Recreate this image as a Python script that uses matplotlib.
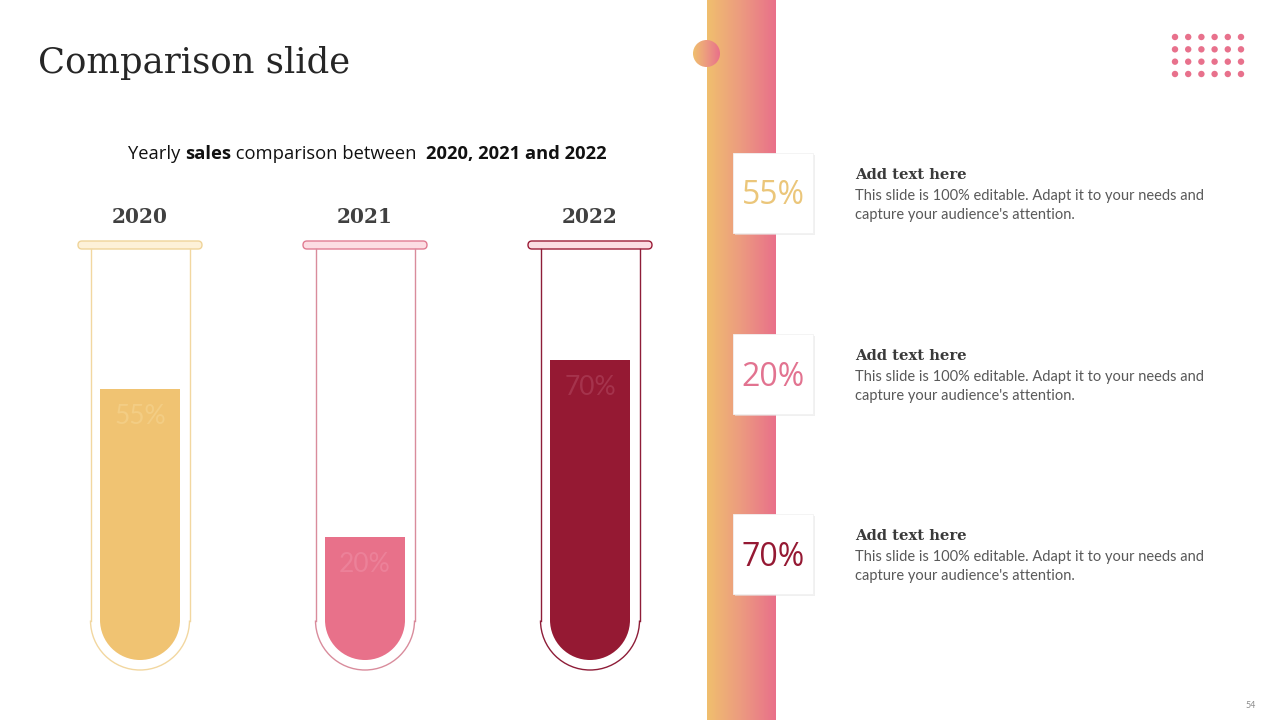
import matplotlib
matplotlib.use("Agg")
import matplotlib.pyplot as plt
import numpy as np
from matplotlib.patches import Wedge, FancyBboxPatch, Rectangle, Circle, Arc
from matplotlib.colors import LinearSegmentedColormap

# ---- data ----
years = ["2020", "2021", "2022"]
values = [55, 20, 70]                      # percent shown
fill_levels = [0.66, 0.30, 0.73]           # displayed fill level of each tube (fraction of tube)
fill_colors = ["#F0C372", "#E8718A", "#951933"]
label_colors = ["#F3CD84", "#EC8199", "#A5334C"]
outline_colors = ["#F2D7A0", "#D98C9C", "#8E1D38"]
cap_fill = ["#FDF1D8", "#FCDDE3", "#FBDDE3"]
cap_edge = ["#EFD49A", "#E07C92", "#9B1D38"]
box_text_colors = ["#EBC67A", "#E27390", "#951933"]
headings = ["Add text here"] * 3
body_line1 = ["This slide is 100% editable. Adapt it to your needs and"] * 3
body_line2 = ["capture your audience's attention."] * 3

W, H = 1280, 720
fig = plt.figure(figsize=(12.8, 7.2), dpi=100)
ax = fig.add_axes([0, 0, 1, 1])
ax.set_xlim(0, W)
ax.set_ylim(H, 0)
ax.axis("off")

SERIF = ["DejaVu Serif"]
SANS = ["Lato", "DejaVu Sans"]
OPEN = ["Open Sans", "DejaVu Sans"]

# title
ax.text(38, 73, "Comparison slide", fontsize=25.5, family=SERIF, color="#262626", va="baseline", ha="left")

# subtitle with mixed weights
fig.canvas.draw()
r = fig.canvas.get_renderer()
parts = [("Yearly ", "normal"), ("sales", "bold"), (" comparison between  ", "normal"), ("2020, 2021 and 2022", "bold")]
fs = 13.2
widths = []
for s, w in parts:
    t = ax.text(0, 0, s, fontsize=fs, family=OPEN, fontweight=w)
    bb = t.get_window_extent(renderer=r)
    widths.append(bb.width)
    t.remove()
total = sum(widths)
x0 = 367 - total / 2
for (s, w), wd in zip(parts, widths):
    ax.text(x0, 159, s, fontsize=fs, family=OPEN, fontweight=w, color="#111111", va="baseline", ha="left")
    x0 += wd

# tubes
centers = [140, 365, 590]
tube_top, tube_bot = 249, 670
outer_w = 99
inner_w = 80
fill_bottom = 660
fill_span = fill_bottom - tube_top

for i, (cx, yr) in enumerate(zip(centers, years)):
    ax.text(cx, 223, yr, fontsize=14.5, family=SERIF, fontweight="bold", color="#404040", ha="center", va="baseline")
    R = outer_w / 2
    cy = tube_bot - R
    ax.plot([cx - R, cx - R], [tube_top, cy], color=outline_colors[i], lw=1.0)
    ax.plot([cx + R, cx + R], [tube_top, cy], color=outline_colors[i], lw=1.0)
    ax.add_patch(Arc((cx, cy), 2 * R, 2 * R, theta1=0, theta2=180, color=outline_colors[i], lw=1.0))
    r_in = inner_w / 2
    cyi = fill_bottom - r_in
    top = fill_bottom - fill_levels[i] * fill_span
    ax.bar(cx, cyi - top, bottom=top, width=inner_w, color=fill_colors[i], linewidth=0)
    ax.add_patch(Wedge((cx, cyi), r_in, 0, 180, color=fill_colors[i], lw=0))
    ax.text(cx, top + 28, f"{values[i]}%", fontsize=19, family=SANS, color=label_colors[i], ha="center", va="center")
    ax.add_patch(FancyBboxPatch((cx - 62, 241), 124, 8, boxstyle="round,pad=0,rounding_size=4",
                                fc=cap_fill[i], ec=cap_edge[i], lw=1.0))

# gradient band
cmap = LinearSegmentedColormap.from_list("g", ["#F0BF6E", "#EC9A80", "#E9708A"])
grad = np.linspace(0, 1, 256)[None, :]
ax.imshow(grad, extent=[707, 776, 720, 0], cmap=cmap, aspect="auto", zorder=1)
im = ax.imshow(grad, extent=[693, 720, 67, 40], cmap=cmap, aspect="auto", zorder=2)
circ = Circle((706.5, 53.5), 13.5, transform=ax.transData, fc="none", ec="none")
ax.add_patch(circ)
im.set_clip_path(circ)
ax.set_xlim(0, W)
ax.set_ylim(H, 0)

# dots grid
dx = np.linspace(1175, 1241, 6)
dy = np.linspace(37, 74, 4)
for yy in dy:
    for xx in dx:
        ax.add_patch(Circle((xx, yy), 3.2, fc="#E8718C", ec="none", zorder=3))

# boxes and texts
box_tops = [153, 334, 514]
for i, bt in enumerate(box_tops):
    ax.add_patch(Rectangle((733 + 2, bt + 2), 80, 80, fc="#E6E6E6", ec="none", zorder=4, alpha=0.6))
    ax.add_patch(Rectangle((733, bt), 80, 80, fc="white", ec="#F2F2F2", lw=0.6, zorder=5))
    ax.text(773, bt + 43, f"{values[i]}%", fontsize=23, family=OPEN,
            color=box_text_colors[i], ha="center", va="center", zorder=6)
    ax.text(855, bt + 26, headings[i], fontsize=10.6, family=SERIF, fontweight="bold", color="#3A3A3A",
            ha="left", va="baseline", zorder=6)
    ax.text(855, bt + 47, body_line1[i], fontsize=10.5, family=SANS, color="#595959", ha="left", va="baseline", zorder=6)
    ax.text(855, bt + 66, body_line2[i], fontsize=10.5, family=SANS, color="#595959", ha="left", va="baseline", zorder=6)

ax.text(1251, 708, "54", fontsize=6.5, family=SANS, color="#8C8C8C", ha="center", va="baseline")

fig.savefig("out.png", dpi=100)
